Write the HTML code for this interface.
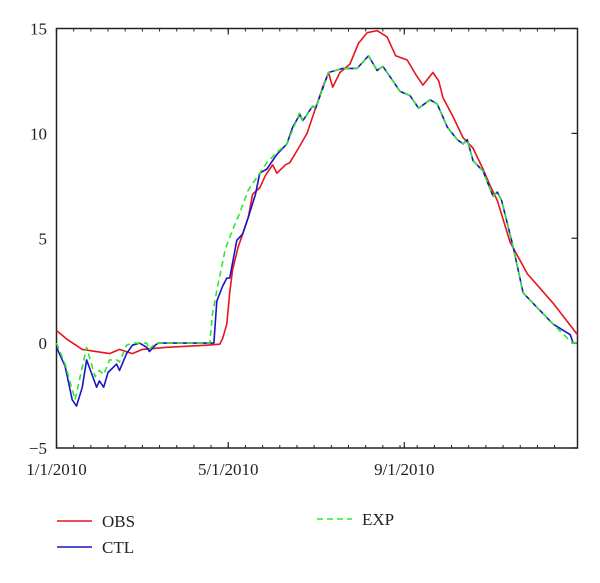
<!DOCTYPE html>
<html><head><meta charset="utf-8"><style>
body{margin:0;background:#fff}
svg text{font-family:"Liberation Serif",serif;font-size:17px;fill:#222}
</style></head><body>
<svg id="chart" width="600" height="578" xmlns="http://www.w3.org/2000/svg">
<g id="axes"></g>
<g id="series"></g>
<g id="legend">
<line x1="57" y1="521" x2="92" y2="521" stroke="#e8141c" stroke-width="1.5"/>
<text x="102" y="527">OBS</text>
<line x1="57" y1="547" x2="92" y2="547" stroke="#1a14c8" stroke-width="1.5"/>
<text x="102" y="553">CTL</text>
<line x1="317" y1="519" x2="352" y2="519" stroke="#2ee82e" stroke-width="1.5" stroke-dasharray="6,4"/>
<text x="362" y="525">EXP</text>
</g>
</svg>
<script>
const yTicks=[-5,0,5,10,15];
const xTickDays=[0,120,243];
const xTickLabels=["1/1/2010","5/1/2010","9/1/2010"];
const obsDays=[0,7,18,37,44,53,60,77,105,114,116,119,121,123,127,130,134,137,142,146,151,154,160,163,170,175,186,190,193,198,205,211,217,224,231,237,245,251,256,263,267,270,277,284,291,298,303,308,317,329,347,364];
const obsVals=[0.6,0.2,-0.3,-0.5,-0.3,-0.5,-0.3,-0.2,-0.1,-0.05,0.2,0.9,2.4,3.5,4.6,5.2,6.0,7.1,7.4,8.0,8.5,8.1,8.5,8.6,9.4,10.0,12.2,12.9,12.2,12.9,13.3,14.3,14.8,14.9,14.6,13.7,13.5,12.8,12.3,12.9,12.5,11.7,10.8,9.8,9.3,8.3,7.5,6.8,4.8,3.3,1.9,0.4];
const ctlDays=[0,6,11,14,18,21,28,30,33,36,42,44,49,53,58,63,65,69,71,110,112,116,119,121,126,130,134,139,142,147,154,161,165,170,172,179,181,190,200,210,218,224,228,232,240,247,253,261,266,273,280,284,287,291,298,305,308,311,319,326,333,347,359,361,364];
const ctlVals=[-0.2,-1.1,-2.7,-3.0,-2.1,-0.8,-2.1,-1.8,-2.1,-1.4,-1.0,-1.3,-0.5,-0.1,0,-0.2,-0.4,-0.1,0,0,2.0,2.7,3.1,3.1,4.9,5.2,6.0,7.1,8.1,8.3,9.0,9.5,10.3,10.9,10.6,11.3,11.2,12.9,13.1,13.1,13.7,13.0,13.2,12.8,12.0,11.8,11.2,11.6,11.4,10.3,9.7,9.5,9.7,8.7,8.2,7.0,7.2,6.8,4.6,2.4,1.9,0.9,0.4,0,0];
const expDays=[0,6,13,21,27,30,33,37,42,44,49,53,63,65,69,107,109,112,118,123,128,134,140,147,154,161,170,172,179,181,190,200,210,218,224,228,232,240,247,253,261,266,273,280,284,287,291,298,305,308,311,319,326,333,347,359,361,364];
const expVals=[0,-1.0,-2.7,-0.2,-1.6,-1.3,-1.5,-0.8,-0.8,-0.9,-0.1,0,0,-0.3,0,0,1.4,2.5,4.5,5.4,6.2,7.3,7.9,8.6,9.1,9.5,11.0,10.6,11.3,11.2,12.9,13.1,13.1,13.7,13.0,13.2,12.8,12.0,11.8,11.2,11.6,11.4,10.3,9.7,9.5,9.7,8.7,8.2,7.0,7.2,6.8,4.6,2.4,1.9,0.9,0.1,0,0];

const L=56.5,R=577.5,T=28.5,B=448;
const X=d=>L+d*(R-L)/364;
const Y=v=>T+(15-v)*(B-T)/20;
const NS="http://www.w3.org/2000/svg";
const axes=document.getElementById('axes'),ser=document.getElementById('series');
function mk(tag,attrs,parent){const e=document.createElementNS(NS,tag);for(const k in attrs)e.setAttribute(k,attrs[k]);parent.appendChild(e);return e;}
const frame=mk('rect',{x:L,y:T,width:R-L,height:B-T,fill:'none',stroke:'#222','stroke-width':1.5},axes);


for(let i=1;i<30;i++){const px=L+i*(X(120)-L)/10;if(px>R-2)break;
 const t=mk('line',{x1:px,y1:B,x2:px,y2:B-3,stroke:'#222','stroke-width':1},axes);
 
 
 const t2=mk('line',{x1:px,y1:T,x2:px,y2:T+3,stroke:'#222','stroke-width':1},axes);
 
 }
xTickDays.forEach((d,i)=>{
 const t=mk('line',{x1:X(d),y1:B,x2:X(d),y2:B-6,stroke:'#222','stroke-width':1.2},axes);
 
 
 const t2=mk('line',{x1:X(d),y1:T,x2:X(d),y2:T+6,stroke:'#222','stroke-width':1.2},axes);
 
 
 const tx=mk('text',{x:X(d),y:475,'text-anchor':'middle'},axes);tx.textContent=xTickLabels[i];
 
 
});
yTicks.forEach(v=>{
 const tx=mk('text',{x:47,y:Y(v)+6,'text-anchor':'end'},axes);tx.textContent=v<0?'\u2212'+Math.abs(v):String(v);
 
 
 const t=mk('line',{x1:R,y1:Y(v),x2:R-6,y2:Y(v),stroke:'#222','stroke-width':1.2},axes);
 
 
});
function line(days,vals,color,dash,name){
 const d=days.map((x,i)=>(i?'L':'M')+X(x).toFixed(1)+','+Y(vals[i]).toFixed(1)).join(' ');
 const p=mk('path',{d:d,fill:'none',stroke:color,'stroke-width':1.6,'stroke-linejoin':'round'},ser);
 if(dash)p.setAttribute('stroke-dasharray',dash);
 
 
}
line(obsDays,obsVals,'#e8141c',null,'obs-line');
line(ctlDays,ctlVals,'#1a14c8',null,'ctl-line');
line(expDays,expVals,'#2ee82e','6,4','exp-line');
</script>
</body></html>
